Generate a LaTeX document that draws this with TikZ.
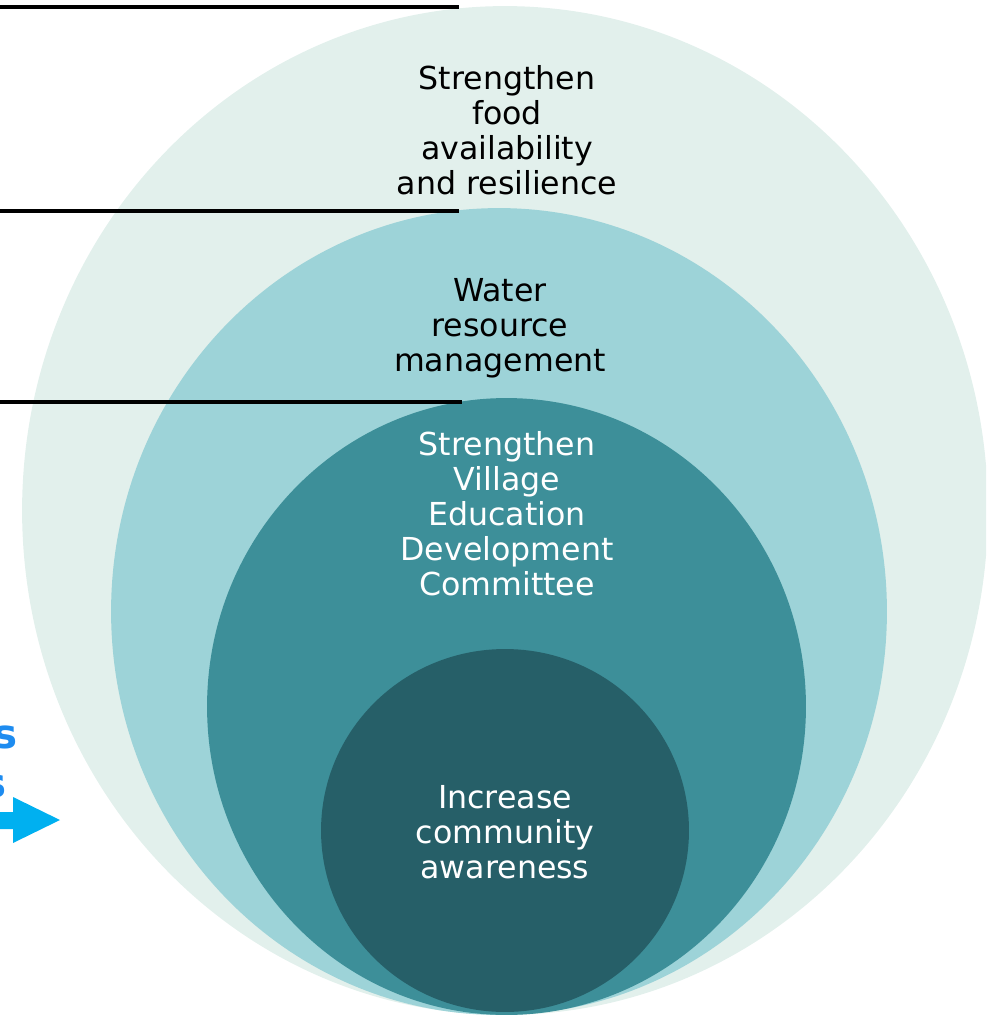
\documentclass[tikz,border=0pt]{standalone}
\usepackage{fontspec}
\setmainfont{DejaVu Sans}
\usetikzlibrary{shapes.geometric}
\definecolor{ringA}{HTML}{E2F0EC}
\definecolor{ringB}{HTML}{9DD3D8}
\definecolor{ringC}{HTML}{3D8F99}
\definecolor{ringD}{HTML}{265F68}
\definecolor{sblue}{HTML}{1E8CF0}
\definecolor{arrowcyan}{HTML}{00B0F0}
\begin{document}
\begin{tikzpicture}[x=0.02cm,y=-0.02cm,
  ring/.style={ellipse,draw=none,inner sep=0pt},
  lbl/.style={align=center,font=\fontsize{18}{19.9}\selectfont},
  blues/.style={anchor=east,inner sep=0pt,text=sblue,font=\fontsize{23}{25}\selectfont\bfseries},
  rule/.style={line width=2.2pt,black}]
 \useasboundingbox (0,0) rectangle (986,1016);
 \clip (0,0) rectangle (986,1016);
 \node[ring,fill=ringA,minimum width=19.32cm,minimum height=20.18cm] (outer) at (505,510.5) {};
 \node[ring,fill=ringB,minimum width=15.52cm,minimum height=16.14cm] (water) at (499,611.5) {};
 \node[ring,fill=ringC,minimum width=11.98cm,minimum height=12.34cm] (vedc) at (506.5,706.5) {};
 \node[ring,fill=ringD,minimum width=7.36cm,minimum height=7.26cm] (aware) at (505,830.5) {};

 \node[lbl] (t1) at (507,130) {Strengthen\\food\\availability\\and resilience};
 \node[lbl] (t2) at (500,328) {Water\\resource\\management};
 \node[lbl,white] (t3) at (507,514) {Strengthen\\Village\\Education\\Development\\Committee};
 \node[lbl,white] (t4) at (505,832) {Increase\\community\\awareness};

 \coordinate (l1a) at (0,7);   \coordinate (l1b) at (459,7);
 \coordinate (l2a) at (0,211); \coordinate (l2b) at (459,211);
 \coordinate (l3a) at (0,402); \coordinate (l3b) at (462,402);
 \foreach \from/\to in {l1a/l1b,l2a/l2b,l3a/l3b}
  \draw[rule] (\from) -- (\to);

 \node[blues] (s1) at (18,737) {s};
 \node[blues] (s2) at (7,786) {s};
 \fill[arrowcyan] (-5,812) -- (13,812) -- (13,797) -- (60,820) -- (13,843) -- (13,829) -- (-5,829) -- cycle;
\end{tikzpicture}
\end{document}
